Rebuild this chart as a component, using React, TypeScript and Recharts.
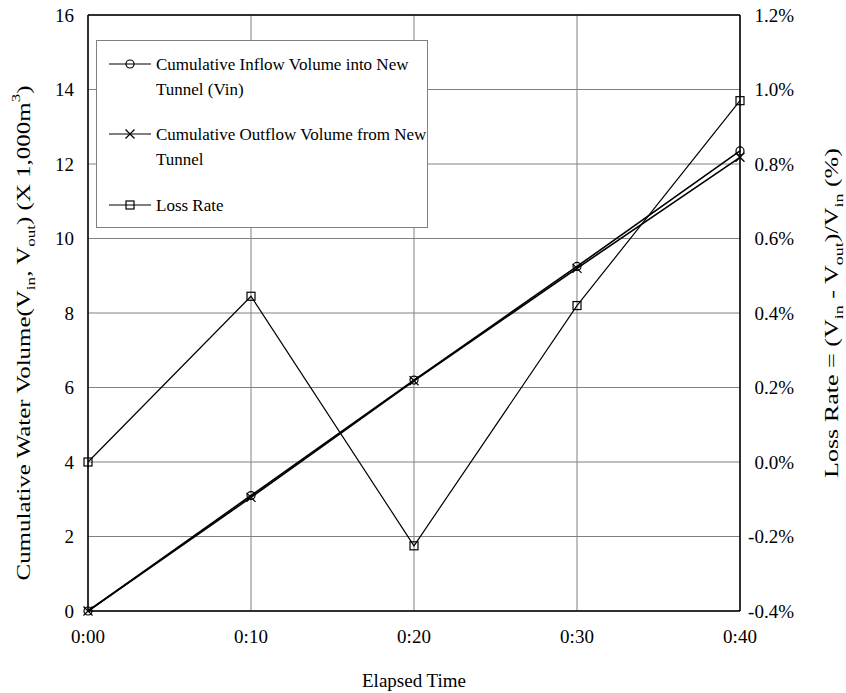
import React from "react";
import {
  LineChart,
  Line,
  XAxis,
  YAxis,
  CartesianGrid,
  Legend,
  Label,
  ReferenceLine,
} from "recharts";

const TIMES = ["0:00", "0:10", "0:20", "0:30", "0:40"];
// cumulative volumes, x 1,000 m3
const INFLOW = [0, 3.1, 6.2, 9.25, 12.35];
const OUTFLOW = [0, 3.05, 6.18, 9.2, 12.18];
// loss rate in percent
const LOSS_RATE = [0.0, 0.445, -0.225, 0.42, 0.97];

const VOLUME_TICKS = [0, 2, 4, 6, 8, 10, 12, 14, 16];
const RATE_TICKS = [-0.4, -0.2, 0, 0.2, 0.4, 0.6, 0.8, 1.0, 1.2];

const SERIF = '"Liberation Serif", "Times New Roman", serif';
const GRID = "#808080";
const TICK_FONT = 19;
const TITLE_FONT = 19;
const LEGEND_W = 332;

const data = TIMES.map((time, i) => ({
  time,
  inflow: INFLOW[i],
  outflow: OUTFLOW[i],
  loss: LOSS_RATE[i],
}));

type Marker = "circle" | "cross" | "square";

function drawMarker(kind: Marker, cx: number, cy: number) {
  if (kind === "circle") {
    return <circle cx={cx} cy={cy} r={4} fill="none" stroke="#000" strokeWidth={1.2} />;
  }
  if (kind === "square") {
    return <rect x={cx - 4} y={cy - 4} width={8} height={8} fill="none" stroke="#000" strokeWidth={1.2} />;
  }
  return (
    <g stroke="#000" strokeWidth={1.2}>
      <line x1={cx - 4.5} y1={cy - 4.5} x2={cx + 4.5} y2={cy + 4.5} />
      <line x1={cx - 4.5} y1={cy + 4.5} x2={cx + 4.5} y2={cy - 4.5} />
    </g>
  );
}

const dotFor = (kind: Marker) =>
  // eslint-disable-next-line @typescript-eslint/no-explicit-any
  (props: any) => <g key={`${kind}-${props.index}`}>{drawMarker(kind, props.cx, props.cy)}</g>;

const SERIES = [
  { key: "inflow", axis: "vol", marker: "circle" as Marker, width: 1.6, name: "Cumulative Inflow Volume into New Tunnel (Vin)", lines: ["Cumulative Inflow Volume into New", "Tunnel (Vin)"] },
  { key: "outflow", axis: "vol", marker: "cross" as Marker, width: 1.6, name: "Cumulative Outflow Volume from New Tunnel", lines: ["Cumulative Outflow Volume from New", "Tunnel"] },
  { key: "loss", axis: "rate", marker: "square" as Marker, width: 1.2, name: "Loss Rate", lines: ["Loss Rate"] },
];

// legend drawn as its own small svg: boxed, three entries with wrapped names
function LegendBox() {
  const rowY = [24, 94, 165];
  return (
    <svg width={LEGEND_W} height={188} style={{ display: "block" }}>
      <rect x={0.5} y={0.5} width={LEGEND_W - 1} height={187} fill="#fff" stroke={GRID} />
      {SERIES.map((s, i) => (
        <g key={s.key}>
          <line x1={13} y1={rowY[i]} x2={55} y2={rowY[i]} stroke="#000" strokeWidth={1.2} />
          {drawMarker(s.marker, 34, rowY[i])}
          {s.lines.map((t, j) => (
            <text key={j} x={60} y={rowY[i] + j * 25.5} dominantBaseline="central" fontFamily={SERIF} fontSize={17} fill="#000">
              {t}
            </text>
          ))}
        </g>
      ))}
    </svg>
  );
}

const sub = { fontSize: 13, baselineShift: "sub" } as const;

// eslint-disable-next-line @typescript-eslint/no-explicit-any
function LeftTitle({ viewBox }: any) {
  const cx = 23;
  const cy = viewBox.y + viewBox.height / 2 + 20;
  return (
    <text
      x={cx}
      y={cy}
      transform={`rotate(-90 ${cx} ${cy})`}
      textAnchor="middle"
      dominantBaseline="central"
      textLength={495}
      lengthAdjust="spacingAndGlyphs"
      fontFamily={SERIF}
      fontSize={TITLE_FONT}
      fill="#000"
    >
      Cumulative Water Volume(V<tspan style={sub}>in</tspan>,  V<tspan style={sub}>out</tspan>) (X 1,000m
      <tspan fontSize={13} baselineShift="super">3</tspan>)
    </text>
  );
}

// eslint-disable-next-line @typescript-eslint/no-explicit-any
function RightTitle({ viewBox }: any) {
  const cx = 831;
  const cy = viewBox.y + viewBox.height / 2;
  return (
    <text
      x={cx}
      y={cy}
      transform={`rotate(-90 ${cx} ${cy})`}
      textAnchor="middle"
      dominantBaseline="central"
      textLength={330}
      lengthAdjust="spacingAndGlyphs"
      fontFamily={SERIF}
      fontSize={TITLE_FONT}
      fill="#000"
    >
      Loss Rate = (V<tspan style={sub}>in</tspan> - V<tspan style={sub}>out</tspan>)/V<tspan style={sub}>in</tspan> (%)
    </text>
  );
}

// eslint-disable-next-line @typescript-eslint/no-explicit-any
function RateTick({ x, y, payload }: any) {
  return (
    <text x={x + 52} y={y} textAnchor="end" dominantBaseline="central" fontFamily={SERIF} fontSize={TICK_FONT} fill="#000">
      {`${Number(payload.value).toFixed(1)}%`}
    </text>
  );
}

const tickStyle = { fontSize: TICK_FONT, fill: "#000", fontFamily: SERIF };

export default function App() {
  return (
    <div style={{ position: "absolute", left: 0, top: 0, width: 846, height: 693, background: "#fff" }}>
      <LineChart width={846} height={693} data={data} margin={{ top: 15, right: 0, bottom: 0, left: 0 }}>
        <CartesianGrid yAxisId="vol" stroke={GRID} strokeWidth={1} />
        <XAxis
          dataKey="time"
          height={82}
          tick={tickStyle}
          tickSize={0}
          tickMargin={19}
          axisLine={{ stroke: "#000", strokeWidth: 1.5 }}
        >
          <Label position="insideBottom" offset={6} value="Elapsed Time" style={{ fontFamily: SERIF, fontSize: TITLE_FONT, fill: "#000" }} />
        </XAxis>
        <YAxis
          yAxisId="vol"
          width={88}
          domain={[0, 16]}
          ticks={VOLUME_TICKS}
          interval={0}
          tick={tickStyle}
          tickSize={0}
          tickMargin={14}
          axisLine={{ stroke: "#000", strokeWidth: 1.5 }}
        >
          <Label content={<LeftTitle />} />
        </YAxis>
        <YAxis
          yAxisId="rate"
          orientation="right"
          width={106}
          domain={[-0.4, 1.2]}
          ticks={RATE_TICKS}
          interval={0}
          tick={<RateTick />}
          tickSize={0}
          axisLine={{ stroke: "#000", strokeWidth: 1.5 }}
        >
          <Label content={<RightTitle />} />
        </YAxis>
        <ReferenceLine yAxisId="vol" y={16} stroke="#000" strokeWidth={1.5} />
        <Legend
          layout="vertical"
          align="center"
          verticalAlign="middle"
          content={<LegendBox />}
          wrapperStyle={{ left: 96, top: 40, width: LEGEND_W }}
        />
        {SERIES.map((s) => (
          <Line
            key={s.key}
            yAxisId={s.axis}
            dataKey={s.key}
            name={s.name}
            type="linear"
            stroke="#000"
            strokeWidth={s.width}
            dot={dotFor(s.marker)}
            activeDot={false}
            isAnimationActive={false}
          />
        ))}
      </LineChart>
    </div>
  );
}
